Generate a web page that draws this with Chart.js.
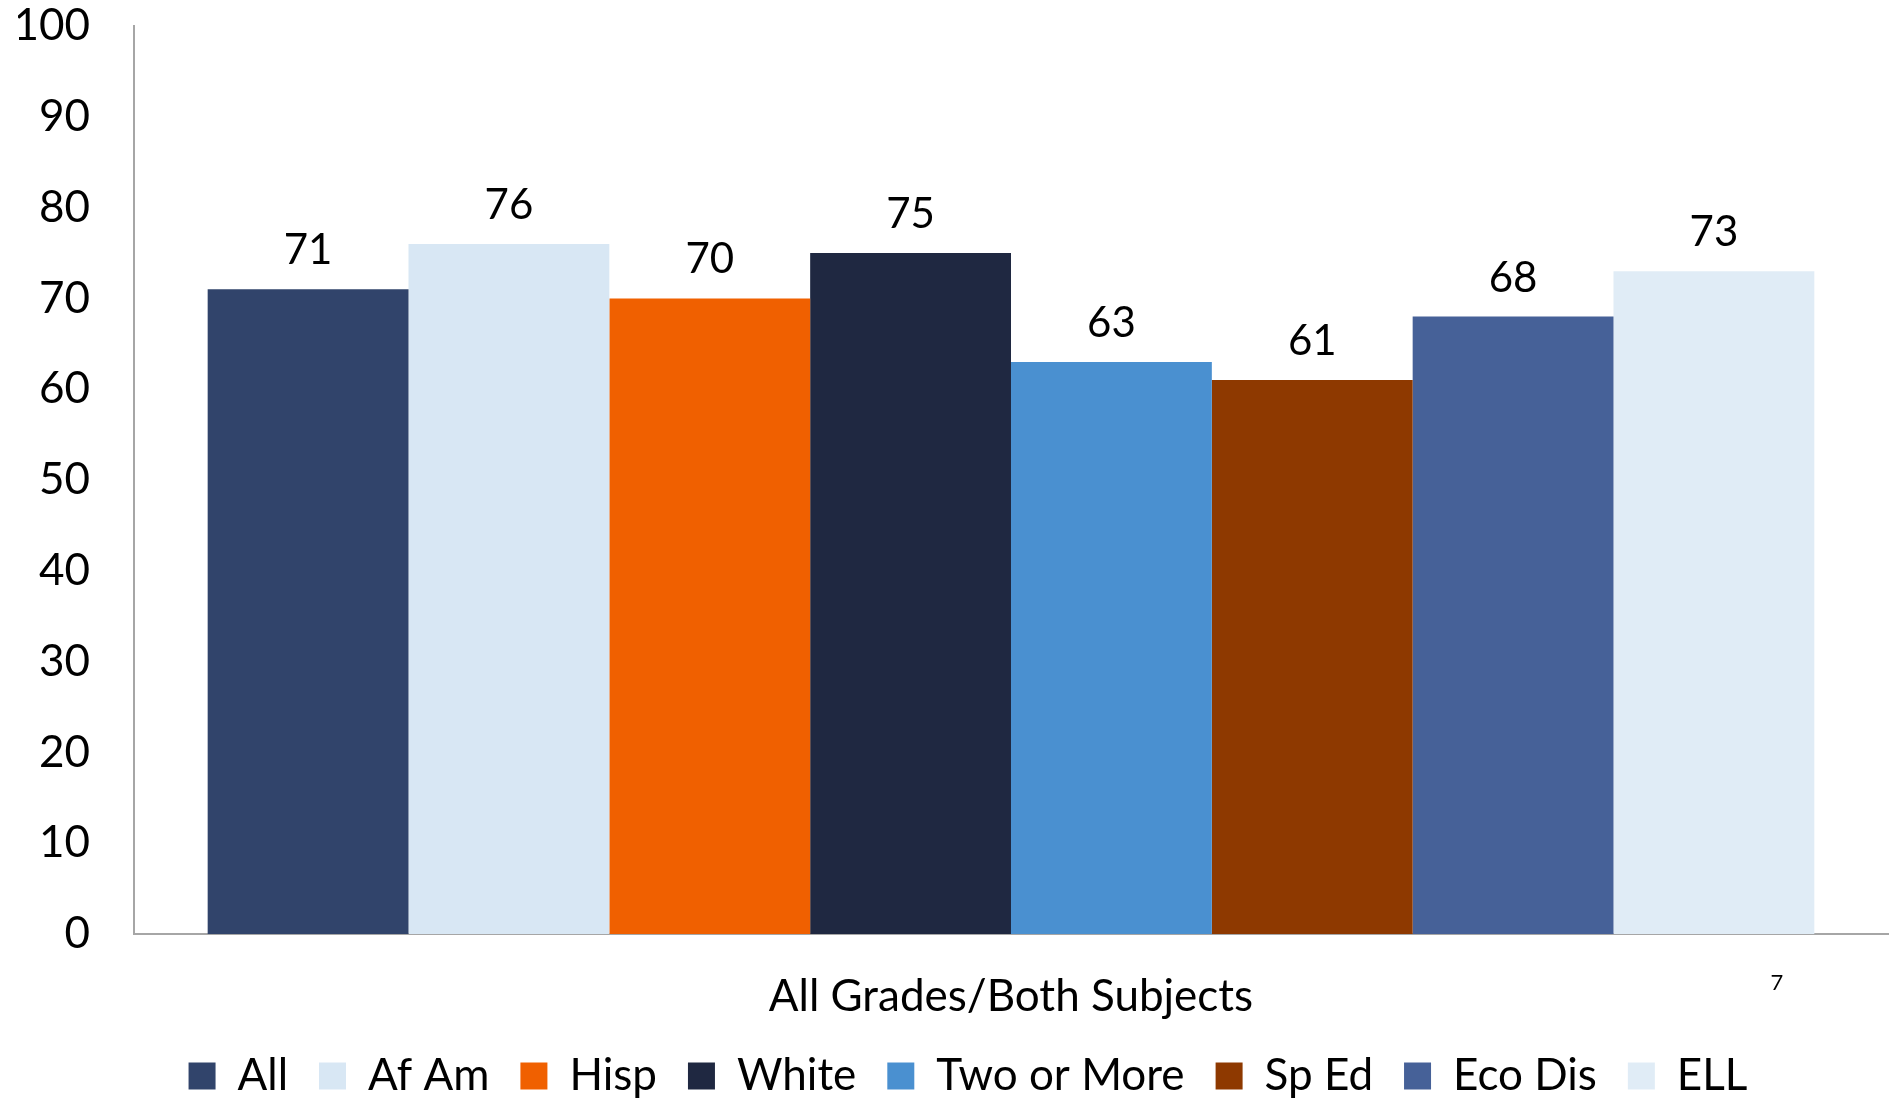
<!DOCTYPE html>
<html>
<head>
<meta charset="utf-8">
<script src="https://cdn.jsdelivr.net/npm/chart.js@4.4.1/dist/chart.umd.min.js"></script>
<style>
  html, body { margin: 0; padding: 0; background: #fff; }
  #wrap { width: 1892px; height: 1099px; }
</style>
</head>
<body>
<div id="wrap"><canvas id="chart"></canvas></div>
<script>
// ── Data ──────────────────────────────────────────────────────────────────────
const CATEGORIES = ['All Grades/Both Subjects'];
const GROUPS     = ['All', 'Af Am', 'Hisp', 'White', 'Two or More', 'Sp Ed', 'Eco Dis', 'ELL'];
const VALUES     = [71, 76, 70, 75, 63, 61, 68, 73];
const COLORS     = ['#31446b', '#d8e7f4', '#f06000', '#1f2841', '#4a90d0', '#8e3900', '#466198', '#e0ecf6'];
const Y_TICKS    = [0, 10, 20, 30, 40, 50, 60, 70, 80, 90, 100];
const FOOTNOTE   = '7';

const FONT = 'Lato, "Open Sans", sans-serif';
const AXIS_GREY = '#a6a6a6';

// value labels above each bar, category name under the axis, slide number
const barLabels = {
  id: 'barLabels',
  afterLayout(chart) {
    // legend sits a little right of the canvas centre in the original
    chart.legend.left += 30;
  },
  afterDatasetsDraw(chart) {
    const { ctx } = chart;
    ctx.save();
    ctx.fillStyle = '#000';
    ctx.textAlign = 'center';

    ctx.font = `42px ${FONT}`;
    ctx.textBaseline = 'alphabetic';
    chart.data.datasets.forEach((ds, i) => {
      const meta = chart.getDatasetMeta(i);
      meta.data.forEach((bar, j) => {
        ctx.fillText(String(ds.data[j]), bar.x, bar.y - 25);
      });
    });

    const xs = chart.scales.x;
    ctx.font = `44px ${FONT}`;
    ctx.textBaseline = 'middle';
    chart.data.labels.forEach((lbl, i) => {
      ctx.fillText(lbl, xs.getPixelForValue(i), 997);
    });

    ctx.font = `22px ${FONT}`;
    ctx.fillText(FOOTNOTE, 1777, 983);
    ctx.restore();
  },
};

new Chart(document.getElementById('chart'), {
  type: 'bar',
  data: {
    labels: CATEGORIES,
    datasets: GROUPS.map((g, i) => ({
      label: g,
      data: [VALUES[i]],
      backgroundColor: COLORS[i],
      borderWidth: 0,
      barPercentage: 1,
      categoryPercentage: 0.916,
    })),
  },
  options: {
    responsive: true,
    maintainAspectRatio: false,
    animation: false,
    layout: { padding: { top: 26, right: 4, left: 18, bottom: -9 } },
    plugins: {
      tooltip: { enabled: false },
      legend: {
        position: 'bottom',
        labels: {
          color: '#000',
          font: { family: FONT, size: 44 },
          boxWidth: 27,
          boxHeight: 27,
          padding: 31,
        },
      },
    },
    scales: {
      x: {
        grid: { display: false, drawTicks: false },
        border: { color: AXIS_GREY, width: 2 },
        ticks: { display: false },
        afterFit: s => { s.height = 89; },
      },
      y: {
        min: 0,
        max: 100,
        afterBuildTicks: s => { s.ticks = Y_TICKS.map(v => ({ value: v })); },
        grid: { display: false, drawTicks: false },
        border: { color: AXIS_GREY, width: 2 },
        ticks: { color: '#000', font: { family: FONT, size: 44 }, padding: 44 },
        afterFit: s => { s.width = 116; s.paddingTop = 0; s.paddingBottom = 0; },
      },
    },
  },
  plugins: [barLabels],
});
</script>
</body>
</html>
